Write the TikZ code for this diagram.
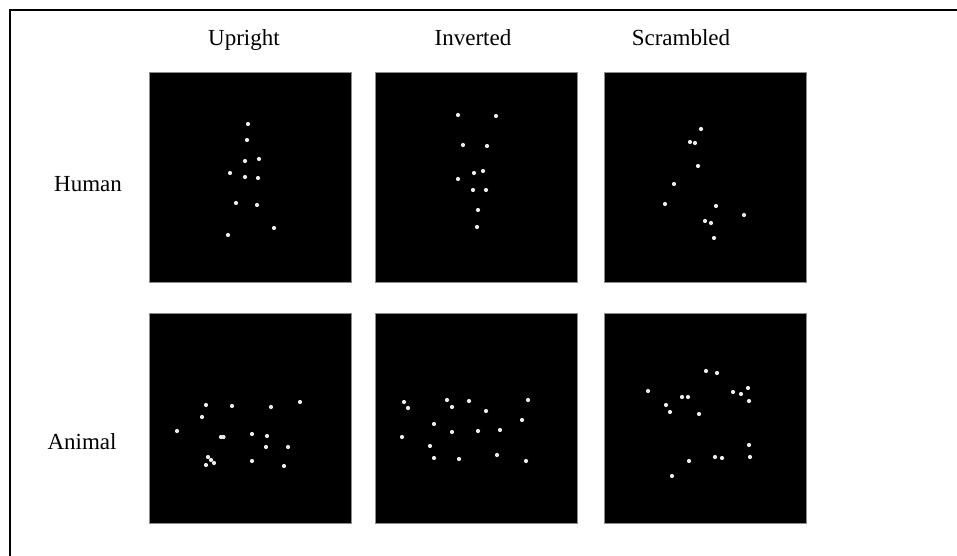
\documentclass[tikz,border=0pt]{standalone}
\usepackage{fontspec}
\setmainfont{Liberation Serif}
\usepackage{tikz}
\usetikzlibrary{calc,positioning}

\begin{document}
\begin{tikzpicture}[x=1pt,y=-1pt]

    \useasboundingbox (0,0) rectangle (957,556);
    \tikzstyle{panel} = [fill=black, draw=black!45, line width=0.6pt, minimum width=202pt, minimum height=210pt, inner sep=0pt]
    \tikzstyle{lbl} = [anchor=base, inner sep=0pt, font=\fontsize{23}{27}\selectfont]
    \tikzstyle{dot} = [fill=black!8]

    % frame
    \draw[line width=2pt] (10,556) -- (10,10) -- (957,10);

    % column and row titles
    \node[lbl] (up) at (244,46) {Upright};
    \node[lbl] (inv) at (473,46) {Inverted};
    \node[lbl] (scr) at (681,46) {Scrambled};
    \node[lbl] (hum) at (88,191) {Human};
    \node[lbl] (ani) at (82,449) {Animal};

    % panels
    \node[panel] (hu) at (250,177) {};
    \node[panel] (hi) at (476,177) {};
    \node[panel] (hs) at (705,177) {};
    \node[panel] (au) at (250,418) {};
    \node[panel] (ai) at (476,418) {};
    \node[panel] (as) at (705,418) {};

    % point-light dots
    \foreach \px/\py in {248/124, 247/140, 245/161, 259/159, 230/173, 245/177, 258/178,
                         236/203, 257/205, 274/228, 228/235}
      \fill[dot] (\px,\py) circle (2.1);
    \foreach \px/\py in {458/115, 496/116, 463/145, 487/146, 474/173, 483/171, 458/179,
                         473/190, 486/190, 478/210, 477/227}
      \fill[dot] (\px,\py) circle (2.1);
    \foreach \px/\py in {701/129, 690/142, 695/143, 698/166, 674/184, 665/204, 716/206,
                         744/215, 705/221, 711/223, 714/238}
      \fill[dot] (\px,\py) circle (2.1);

    \foreach \px/\py in {206/405, 232/406, 271/407, 300/402, 202/417, 177/431, 221/437,
                         223.5/437, 252/434, 267/436, 266/447, 288/447, 208/457, 211/460,
                         214/463, 206/465, 252/461, 284/466}
      \fill[dot] (\px,\py) circle (2.1);
    \foreach \px/\py in {404/402, 408/408, 447/400, 452/407, 469/401, 486/411, 528/400,
                         522/420, 434/424, 452/432, 478/431, 500/430, 402/437, 430/446,
                         434/458, 459/459, 497/455, 526/461}
      \fill[dot] (\px,\py) circle (2.1);
    \foreach \px/\py in {706/371, 717/373, 648/391, 733/392, 741/394, 748/388, 749/401,
                         682/397, 688/397, 666/405, 670/412, 699/414, 749/445, 750/457,
                         715/457, 722/458, 689/461, 672/476}
      \fill[dot] (\px,\py) circle (2.1);

\end{tikzpicture}
\end{document}
